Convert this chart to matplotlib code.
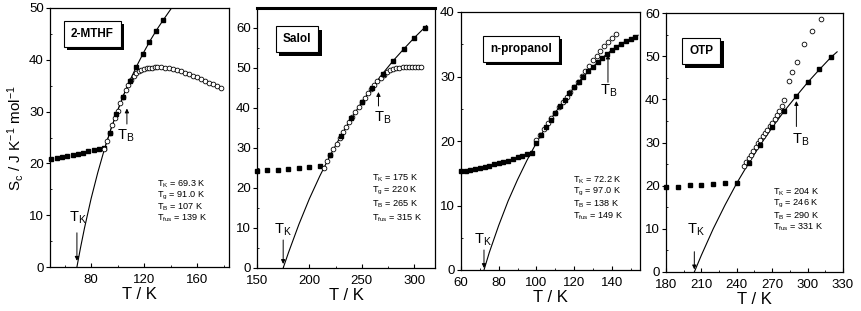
import matplotlib
matplotlib.use("Agg")
import matplotlib.pyplot as plt
import matplotlib.patheffects as pe
from matplotlib.ticker import MultipleLocator

plt.rcParams['font.family'] = ['Liberation Sans', 'DejaVu Sans']
plt.rcParams['mathtext.fontset'] = 'custom'
plt.rcParams['mathtext.rm'] = 'Liberation Sans'
plt.rcParams['mathtext.it'] = 'Liberation Sans:italic'

# ---- 2-MTHF ----
mthf_curve_T = [69.3, 72, 75, 80, 85, 90, 95, 100, 105, 110, 115, 120, 125, 130, 135, 140.7]
mthf_curve_S = [0, 3.7, 7.5, 13.2, 18.2, 22.7, 26.7, 30.2, 33.5, 36.4, 39.1, 41.6, 43.9, 46.0, 47.9, 50.0]
mthf_glass_T = [50, 54, 58, 62, 66, 70, 74, 78, 82, 86, 90]
mthf_glass_S = [20.9, 21.1, 21.3, 21.5, 21.7, 21.9, 22.1, 22.3, 22.5, 22.7, 23.0]
mthf_sq_T = [94, 99, 104, 109, 114, 119, 124, 129, 134]
mthf_sq_S = [25.9, 29.6, 32.9, 35.9, 38.6, 41.1, 43.5, 45.6, 47.6]
mthf_oc_T = [90, 92, 94, 96, 98, 100, 102, 104, 106, 108, 110, 112, 114, 116, 118, 120, 122, 124,
             126, 128, 130, 133, 136, 139, 142, 145, 148, 151, 154, 157, 160, 163, 166, 169, 172, 175, 178]
mthf_oc_S = [22.8, 24.3, 25.9, 27.4, 28.8, 30.2, 31.6, 32.9, 34.1, 35.2, 36.1, 36.8, 37.4, 37.8, 38.1,
             38.3, 38.4, 38.5, 38.5, 38.6, 38.6, 38.6, 38.5, 38.4, 38.2, 38.0, 37.8, 37.5, 37.2, 36.9,
             36.6, 36.3, 35.9, 35.6, 35.3, 35.0, 34.6]

# ---- Salol ----
salol_curve_T = [175, 180, 190, 200, 210, 220, 230, 240, 250, 260, 270, 280, 290, 300, 312]
salol_curve_S = [0, 3.8, 10.9, 17.3, 23.0, 28.2, 33.0, 37.4, 41.4, 45.1, 48.6, 51.8, 54.7, 57.5, 60.6]
salol_glass_T = [150, 160, 170, 180, 190, 200, 210]
salol_glass_S = [24.3, 24.4, 24.6, 24.8, 25.0, 25.2, 25.5]
salol_sq_T = [220, 230, 240, 250, 260, 270, 280, 290, 300, 310]
salol_sq_S = [28.2, 33.0, 37.4, 41.4, 45.1, 48.6, 51.8, 54.7, 57.5, 60.1]
salol_oc_T = [214, 217, 220, 223, 226, 229, 232, 235, 238, 241, 244, 247, 250, 253, 256, 259, 262,
              265, 268, 271, 274, 277, 280, 283, 286, 289, 292, 295, 298, 301, 304, 307]
salol_oc_S = [25.1, 26.7, 28.2, 29.7, 31.1, 32.5, 33.9, 35.2, 36.5, 37.8, 39.0, 40.2, 41.4, 42.5,
              43.7, 44.8, 45.8, 46.8, 47.6, 48.3, 48.9, 49.4, 49.7, 49.9, 50.1, 50.2, 50.3, 50.3,
              50.3, 50.3, 50.3, 50.3]

# ---- n-propanol ----
prop_curve_T = [72.2, 75, 80, 85, 90, 95, 100, 105, 110, 115, 120, 125, 130, 135, 140, 145, 150, 154]
prop_curve_S = [0, 2.7, 6.9, 10.7, 14.0, 17.0, 19.7, 22.2, 24.4, 26.4, 28.3, 30.0, 31.5, 32.9, 34.1,
                35.1, 35.8, 36.4]
prop_glass_T = [60, 62.5, 65, 67.5, 70, 72.5, 75, 77.5, 80, 82.5, 85, 87.5, 90, 92.5, 95]
prop_glass_S = [15.3, 15.4, 15.55, 15.7, 15.85, 16.0, 16.2, 16.4, 16.55, 16.75, 16.95, 17.2, 17.45,
                17.75, 18.05]
prop_sq_T = [97.5, 100, 102.5, 105, 107.5, 110, 112.5, 115, 117.5, 120, 122.5, 125, 127.5, 130,
             132.5, 135, 137.5, 140, 142.5, 145, 147.5, 150, 152.5]
prop_sq_S = [18.2, 19.7, 21.0, 22.2, 23.3, 24.4, 25.4, 26.4, 27.4, 28.3, 29.2, 30.0, 30.8, 31.5,
             32.2, 32.9, 33.5, 34.1, 34.6, 35.1, 35.5, 35.8, 36.2]
prop_oc_T = [100, 102, 104, 106, 108, 110, 112, 114, 116, 118, 120, 122, 124, 126, 128, 130, 132,
             134, 136, 138, 140, 142]
prop_oc_S = [20.2, 21.0, 21.9, 22.8, 23.6, 24.4, 25.2, 26.0, 26.8, 27.6, 28.4, 29.2, 30.1, 30.9,
             31.7, 32.5, 33.2, 34.0, 34.7, 35.4, 36.0, 36.6]

# ---- OTP ----
otp_curve_T = [204, 210, 220, 230, 240, 250, 260, 270, 280, 290, 300, 310, 320, 325]
otp_curve_S = [0, 3.9, 10.0, 15.5, 20.6, 25.2, 29.5, 33.5, 37.2, 40.6, 43.9, 46.9, 49.8, 51.0]
otp_glass_T = [180, 190, 200, 210, 220, 230]
otp_glass_S = [19.7, 19.8, 20.1, 20.2, 20.4, 20.6]
otp_sq_T = [240, 250, 260, 270, 280, 290, 300, 310, 320]
otp_sq_S = [20.7, 25.3, 29.5, 33.5, 37.2, 40.7, 44.0, 47.1, 49.9]
otp_oc_T = [246, 248, 250, 252, 254, 256, 258, 260, 262, 264, 266, 268, 270, 272, 274, 276, 278,
            280, 284, 287, 291, 297, 304, 311]
otp_oc_S = [24.5, 25.4, 26.3, 27.2, 28.0, 28.9, 29.8, 30.6, 31.4, 32.2, 33.0, 33.8, 34.6, 35.4,
            36.3, 37.3, 38.4, 39.8, 44.2, 46.4, 48.7, 52.8, 55.9, 58.6]

names = ['2-MTHF', 'Salol', 'n-propanol', 'OTP']
params = [['69.3', '91.0', '107', '139'],
          ['175', '220', '265', '315'],
          ['72.2', '97.0', '138', '149'],
          ['204', '246', '290', '331']]

fig = plt.figure(figsize=(8.62, 3.11), dpi=100)
W, H = 862.0, 311.0


def make_ax(l, r, t, b):
    return fig.add_axes([l / W, 1 - b / H, (r - l) / W, (b - t) / H])


def shadow_box(ax, x, y, text):
    # name box with a solid black drop shadow (bottom-right)
    t = ax.text(x, y, text, transform=ax.transAxes, color='black', ha='center', va='center',
                fontsize=8.5, fontweight='bold', zorder=6,
                bbox=dict(boxstyle='square,pad=0.6', fc='white', ec='black', lw=0.8))
    t.get_bbox_patch().set_path_effects([
        pe.SimplePatchShadow(offset=(2.5, -2.5), shadow_rgbFace='black', alpha=1.0),
        pe.Normal()])


def param_text(ax, x, y0, dy, vals):
    labels = ['K', 'g', 'B', 'fus']
    for i, (lab, v) in enumerate(zip(labels, vals)):
        ax.text(x, y0 - i * dy, r'T$_\mathrm{%s}$ = %s K' % (lab, v), transform=ax.transAxes,
                fontsize=6.6, ha='left', va='center')


def arrow(ax, x, y0, y1):
    ax.annotate('', xy=(x, y1), xytext=(x, y0),
                arrowprops=dict(arrowstyle='-|>', color='black', lw=0.7,
                                mutation_scale=6, shrinkA=0, shrinkB=0))


def style(ax, xlim, ylim, xmaj, xmin, ymaj=10, ymin=5):
    ax.set_xlim(*xlim)
    ax.set_ylim(*ylim)
    ax.xaxis.set_major_locator(MultipleLocator(xmaj))
    ax.xaxis.set_minor_locator(MultipleLocator(xmin))
    ax.yaxis.set_major_locator(MultipleLocator(ymaj))
    ax.yaxis.set_minor_locator(MultipleLocator(ymin))
    ax.tick_params(axis='x', which='major', direction='in', length=3, labelsize=9.5, pad=5)
    ax.tick_params(axis='x', which='minor', direction='in', length=1.5)
    ax.tick_params(axis='y', which='major', direction='out', length=3, labelsize=9.5, pad=1.5)
    ax.tick_params(axis='y', which='minor', direction='in', length=1.5)
    for s in ax.spines.values():
        s.set_linewidth(0.9)
    ax.set_xlabel('T / K', fontsize=12, labelpad=1)


def plot_set(ax, cT, cS, gT, gS, sT, sS, oT, oS, circ_line=False):
    ax.plot(cT, cS, color='black', lw=0.8, zorder=2)
    ax.plot(gT, gS, 's', color='black', ms=3.2, zorder=3, clip_on=False)
    ax.plot(sT, sS, 's', color='black', ms=3.2, zorder=4)
    ax.plot(oT, oS, 'o', mfc='white', mec='black', ms=3.4, mew=0.6, zorder=3,
            ls='-' if circ_line else 'none', lw=0.5, color='black')


# panel 1
ax1 = make_ax(50, 229, 8, 267)
plot_set(ax1, mthf_curve_T, mthf_curve_S, mthf_glass_T, mthf_glass_S,
         mthf_sq_T, mthf_sq_S, mthf_oc_T, mthf_oc_S, circ_line=True)
style(ax1, (49, 184), (0, 50), 40, 20)
ax1.set_ylabel(r'S$_\mathrm{c}$ / J K$^{-1}$ mol$^{-1}$', fontsize=11, labelpad=2)
shadow_box(ax1, 0.235, 0.90, names[0])
ax1.text(70.2, 9.5, r'T$_\mathrm{K}$', fontsize=10.5, ha='center', va='center')
arrow(ax1, 69.3, 6.6, 1.2)
ax1.text(106.4, 25.3, r'T$_\mathrm{B}$', fontsize=10.5, ha='center', va='center')
arrow(ax1, 107, 27.6, 30.6)
param_text(ax1, 0.598, 0.319, 0.044, params[0])

# panel 2
ax2 = make_ax(257, 435, 8, 268)
plot_set(ax2, salol_curve_T, salol_curve_S, salol_glass_T, salol_glass_S,
         salol_sq_T, salol_sq_S, salol_oc_T, salol_oc_S)
style(ax2, (150, 320), (0, 65), 50, 25)
ax2.spines['top'].set_linewidth(2.2)
shadow_box(ax2, 0.225, 0.88, names[1])
ax2.text(175, 9.6, r'T$_\mathrm{K}$', fontsize=10.5, ha='center', va='center')
arrow(ax2, 175, 7.0, 1.0)
ax2.text(270, 37.6, r'T$_\mathrm{B}$', fontsize=10.5, ha='center', va='center')
arrow(ax2, 266, 40.5, 44.0)
param_text(ax2, 0.646, 0.346, 0.051, params[1])

# panel 3
ax3 = make_ax(461, 640, 12, 270)
plot_set(ax3, prop_curve_T, prop_curve_S, prop_glass_T, prop_glass_S,
         prop_sq_T, prop_sq_S, prop_oc_T, prop_oc_S)
style(ax3, (60, 155), (0, 40), 20, 10)
shadow_box(ax3, 0.335, 0.857, names[2])
ax3.text(71.7, 4.7, r'T$_\mathrm{K}$', fontsize=10.5, ha='center', va='center')
arrow(ax3, 72.2, 3.1, 0.3)
ax3.text(138.6, 27.8, r'T$_\mathrm{B}$', fontsize=10.5, ha='center', va='center')
arrow(ax3, 138, 29.1, 33.4)
param_text(ax3, 0.626, 0.349, 0.047, params[2])

# panel 4
ax4 = make_ax(666, 843, 13, 272)
plot_set(ax4, otp_curve_T, otp_curve_S, otp_glass_T, otp_glass_S,
         otp_sq_T, otp_sq_S, otp_oc_T, otp_oc_S)
style(ax4, (180, 330), (0, 60), 30, 15)
shadow_box(ax4, 0.198, 0.853, names[3])
ax4.text(205.7, 9.8, r'T$_\mathrm{K}$', fontsize=10.5, ha='center', va='center')
arrow(ax4, 204, 4.7, 0.6)
ax4.text(294, 30.6, r'T$_\mathrm{B}$', fontsize=10.5, ha='center', va='center')
arrow(ax4, 290.5, 33.7, 39.6)
param_text(ax4, 0.605, 0.309, 0.046, params[3])

fig.savefig('out.png', dpi=100)
